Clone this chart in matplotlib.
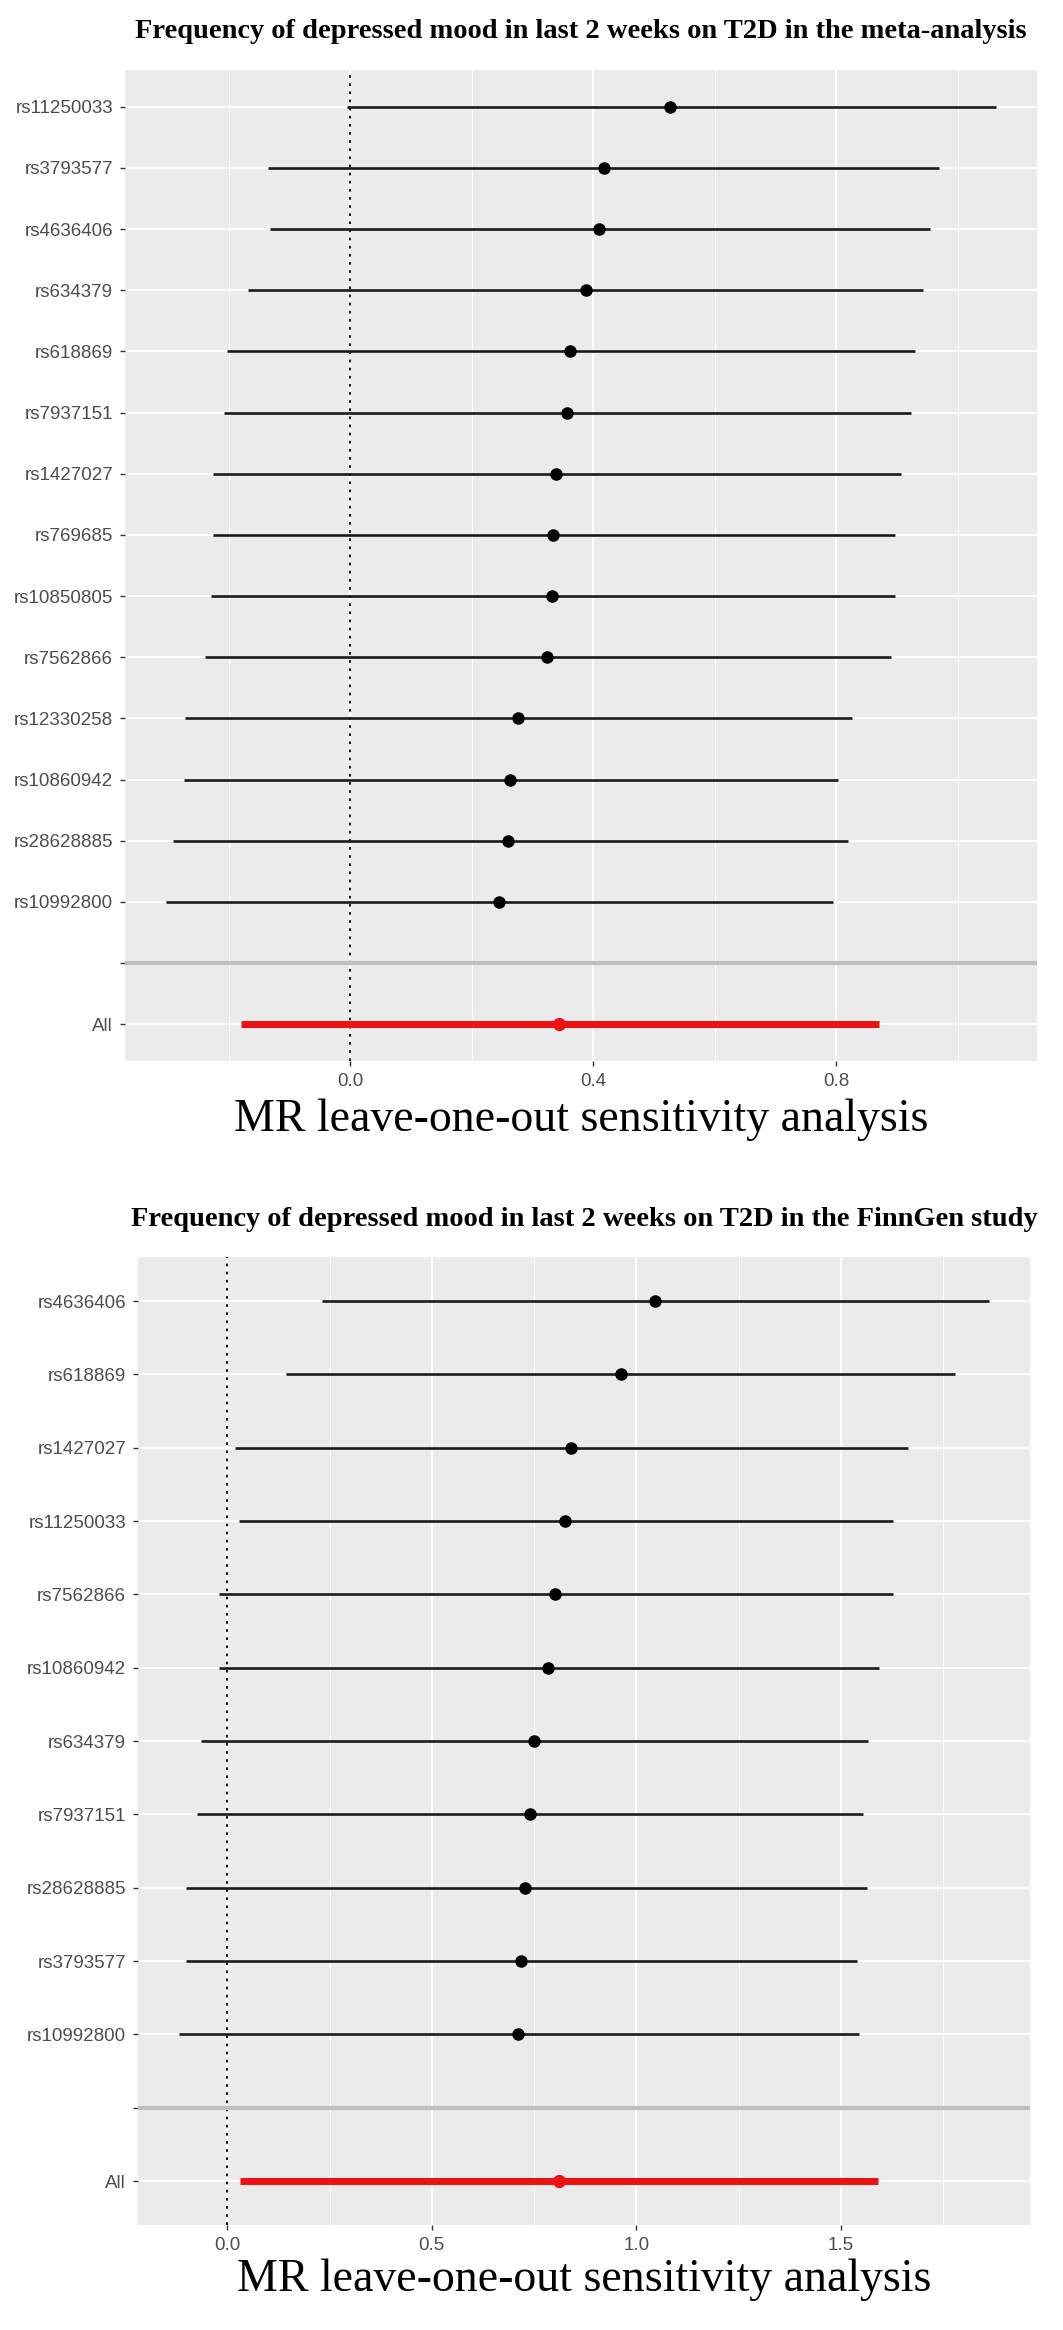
import matplotlib
matplotlib.use("Agg")
import matplotlib.pyplot as plt
from matplotlib.ticker import MultipleLocator

# -----------------------------
#  DATA
# -----------------------------
# meta-analysis panel, top to bottom
meta_snps = ["rs11250033", "rs3793577", "rs4636406", "rs634379", "rs618869",
             "rs7937151", "rs1427027", "rs769685", "rs10850805", "rs7562866",
             "rs12330258", "rs10860942", "rs28628885", "rs10992800"]
meta_b = [0.526, 0.417, 0.409, 0.387, 0.362, 0.357, 0.339, 0.333, 0.331, 0.324,
          0.276, 0.263, 0.259, 0.244]
meta_lo = [-0.005, -0.135, -0.133, -0.169, -0.204, -0.208, -0.227, -0.227, -0.230, -0.240,
           -0.272, -0.274, -0.293, -0.303]
meta_hi = [1.062, 0.969, 0.954, 0.942, 0.929, 0.922, 0.907, 0.897, 0.897, 0.890,
           0.826, 0.802, 0.819, 0.795]
meta_all = (0.344, -0.180, 0.870)   # b, lo, hi

# FinnGen panel, top to bottom
finn_snps = ["rs4636406", "rs618869", "rs1427027", "rs11250033", "rs7562866",
             "rs10860942", "rs634379", "rs7937151", "rs28628885", "rs3793577",
             "rs10992800"]
finn_b = [1.046, 0.962, 0.840, 0.826, 0.802, 0.783, 0.749, 0.739, 0.729, 0.717, 0.711]
finn_lo = [0.231, 0.144, 0.020, 0.028, -0.021, -0.021, -0.063, -0.074, -0.102, -0.102, -0.119]
finn_hi = [1.863, 1.780, 1.664, 1.628, 1.628, 1.592, 1.565, 1.555, 1.564, 1.540, 1.545]
finn_all = (0.810, 0.030, 1.590)

TITLES = ["Frequency of depressed mood in last 2 weeks on T2D in the meta-analysis",
          "Frequency of depressed mood in last 2 weeks on T2D in the FinnGen study"]
XLAB = "MR leave-one-out sensitivity analysis"

# -----------------------------
W, H = 1063, 2330
fig = plt.figure(figsize=(W / 100, H / 100), dpi=100)
fig.patch.set_facecolor("white")

SANS = ["Liberation Sans", "DejaVu Sans"]
SERIF = ["Liberation Serif", "DejaVu Serif"]


def px_axes(left, top, right, bottom):
    return fig.add_axes([left / W, 1 - bottom / H, (right - left) / W, (bottom - top) / H])


def loo_panel(ax, snps, b, lo, hi, allv, major, title, title_y, xlab_y):
    n = len(snps)
    ys = [n + 2 - i for i in range(n)]
    ax.set_facecolor("#EBEBEB")
    for s in ax.spines.values():
        s.set_visible(False)

    # ggplot style 5% expansion on x, 0.6 on discrete y
    xmin = min(min(lo), allv[1])
    xmax = max(max(hi), allv[2])
    pad = 0.05 * (xmax - xmin)
    ax.set_xlim(xmin - pad, xmax + pad)
    ax.set_ylim(0.4, n + 2.6)

    ax.xaxis.set_major_locator(MultipleLocator(major))
    ax.xaxis.set_minor_locator(MultipleLocator(major / 2))
    ax.grid(which="major", axis="x", color="white", lw=1.3)
    ax.grid(which="minor", axis="x", color="white", lw=0.7)
    ax.set_yticks(list(ys) + [2, 1])
    ax.set_yticklabels(list(snps) + ["", "All"])
    ax.grid(which="major", axis="y", color="white", lw=1.3)
    ax.set_axisbelow(True)

    ax.tick_params(axis="both", which="major", colors="#333333", length=3.5, width=1.0,
                   labelcolor="#4D4D4D", labelsize=13.5, pad=5)
    ax.tick_params(axis="x", which="minor", length=0)
    for lab in ax.get_xticklabels() + ax.get_yticklabels():
        lab.set_family(SANS)

    ax.axvline(0, color="black", lw=1.3, ls=(0, (1.5, 3)), zorder=2)
    ax.axhline(2, color="#BEBEBE", lw=3, zorder=2)

    ax.hlines(ys, lo, hi, color="#1a1a1a", lw=1.9, zorder=3)
    ax.plot(b, ys, "o", color="black", ms=8, zorder=4)
    ax.hlines(1, allv[1], allv[2], color="#EE1111", lw=5, zorder=3)
    ax.plot([allv[0]], [1], "o", color="#EE1111", ms=8.5, zorder=4)

    pos = ax.get_position()
    cx = (pos.x0 + pos.x1) / 2
    fig.text(cx, 1 - title_y / H, title, ha="center", va="center",
             family=SERIF, weight="bold", size=20.5)
    fig.text(cx, 1 - xlab_y / H, XLAB, ha="center", va="center",
             family=SERIF, size=33)


ax1 = px_axes(125, 70, 1037, 1061)
loo_panel(ax1, meta_snps, meta_b, meta_lo, meta_hi, meta_all, 0.4, TITLES[0], 32, 1120)

ax2 = px_axes(138, 1257, 1030, 2225)
loo_panel(ax2, finn_snps, finn_b, finn_lo, finn_hi, finn_all, 0.5, TITLES[1], 1220, 2280)

fig.savefig("out.png", dpi=100)
